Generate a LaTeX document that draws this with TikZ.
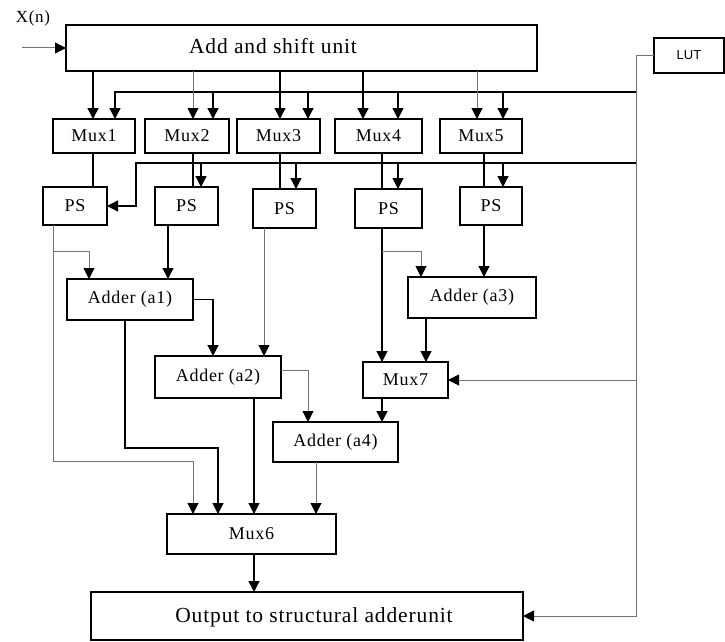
\documentclass[tikz,border=0pt]{standalone}
\usepackage{fontspec}
\setmainfont{Liberation Serif}
\newfontfamily\wideserif[LetterSpace=4]{Liberation Serif}
\newfontfamily\lutfont{Liberation Sans}
\usetikzlibrary{arrows.meta,calc}
\tikzset{
	block/.style={draw, line width=1.1pt, inner sep=0pt, outer sep=0pt, font=\wideserif\fontsize{18}{20}\selectfont},
	bigtext/.style={font=\wideserif\fontsize{21.5}{24}\selectfont},
	wire/.style={line width=1.3pt, -{Triangle[length=11pt,width=11pt]}},
	thinwire/.style={line width=1pt, black!55, -{Triangle[length=11pt,width=11pt,color=black]}},
	bare/.style={line width=1.3pt},
	thinbare/.style={line width=1pt, black!55}
}
\newcommand{\drawblock}[6]{
	\pgfmathsetmacro{\bw}{#4-#2}
	\pgfmathsetmacro{\bh}{#5-#3}
	\node[block, minimum width=\bw pt, minimum height=\bh pt] (#1) at ({(#2+#4)/2},{(#3+#5)/2}) {#6};
}

\begin{document}
\begin{tikzpicture}[x=1pt,y=-1pt]
	\useasboundingbox (0,0) rectangle (725,642);
	% blocks
	\drawblock{add}{66}{25}{537}{71}{}
	\node[bigtext] (addtext) at (273,46) {Add and shift unit};
	\drawblock{lut}{654}{38}{724}{73}{\lutfont\fontsize{13}{15}\selectfont LUT}
	\foreach \i/\a/\b in {1/53/135,2/145/229,3/237/320,4/335/422,5/440/522} {
		\drawblock{mux\i}{\a}{119}{\b}{153}{Mux\i}
	}
	\foreach \i/\a/\b/\c/\d in {1/43/107/187/225,2/155/218/187/225,3/253/316/189/228,4/355/422/189/228,5/460/522/187/225} {
		\drawblock{ps\i}{\a}{\c}{\b}{\d}{PS}
	}
	\drawblock{a1}{67}{279}{193}{320}{Adder (a1)}
	\drawblock{a2}{155}{356}{281}{398}{Adder (a2)}
	\drawblock{a3}{408}{277}{536}{318}{Adder (a3)}
	\drawblock{a4}{273}{422}{398}{462}{Adder (a4)}
	\drawblock{mux7}{363}{362}{448}{398}{Mux7}
	\drawblock{mux6}{167}{514}{336}{554}{Mux6}
	\drawblock{out}{91}{592}{523}{640}{}
	\node[bigtext] (outtext) at (314,617) {Output to structural adderunit};

	% input
	\node[font=\wideserif\fontsize{17}{19}\selectfont] (xn) at (33,18) {X(n)};
	\coordinate (xin) at (22,48);
	\draw[thinwire] (xin) -- (add.west |- xin);

	% LUT lines
	\coordinate (trunk) at (636,0);
	\coordinate (bus1) at (636,92);
	\coordinate (bus2) at (636,163);
	\draw[thinwire] (lut.west) -| (trunk |- out.east) -- (out.east);
	\draw[thinwire] (trunk |- mux7.east) -- (mux7.east);
	\draw[wire] (bus1) -| (mux1.north -| 115,0);
	\draw[wire] (bus2) -| (ps1.east -| 136,0) -- (ps1.east);

	% mux inputs
	\foreach \i/\a/\b/\s in {1/93/115/wire,2/193/213/thinwire,3/280/308/wire,4/363/398/wire,5/477/503/thinwire} {
		\draw[\s] (add.south -| \a,0) -- (mux\i.north -| \a,0);
	}
	\foreach \i/\b in {2/213,3/308,4/398,5/503} {
		\draw[wire] (bus1 -| \b,0) -- (mux\i.north -| \b,0);
	}
	% mux to PS
	\foreach \i/\a in {1/93,2/193,3/280,4/382,5/484} {
		\draw[bare] (mux\i.south -| \a,0) -- (ps\i.north -| \a,0);
	}
	\foreach \i/\b in {2/201,3/296,4/398,5/503} {
		\draw[wire] (bus2 -| \b,0) -- (ps\i.north -| \b,0);
	}

	% adder tree
	\draw[thinwire] (ps1.south -| 53,0) -- (53,461) -| (mux6.north -| 193,0);
	\draw[thinwire] (53,251) -| (a1.north -| 89,0);
	\draw[wire] (ps2.south -| 168,0) -- (a1.north -| 168,0);
	\draw[wire] (a1.east) -| (a2.north -| 213,0);
	\draw[wire] (a1.south -| 125,0) -- (125,448) -| (mux6.north -| 218,0);
	\draw[thinwire] (ps3.south -| 264,0) -- (a2.north -| 264,0);
	\draw[thinwire] ([yshift=7pt]a2.east) -| (a4.north -| 308,0);
	\draw[wire] (a2.south -| 254,0) -- (mux6.north -| 254,0);
	\draw[wire] (ps4.south -| 382,0) -- (mux7.north -| 382,0);
	\draw[thinwire] (382,251) -| (a3.north -| 421,0);
	\draw[wire] (ps5.south -| 484,0) -- (a3.north -| 484,0);
	\draw[wire] (a3.south -| 426,0) -- (mux7.north -| 426,0);
	\draw[wire] (mux7.south -| 382,0) -- (a4.north -| 382,0);
	\draw[thinwire] (a4.south -| 316,0) -- (mux6.north -| 316,0);
	\draw[wire] (mux6.south -| 254,0) -- (out.north -| 254,0);
\end{tikzpicture}
\end{document}
